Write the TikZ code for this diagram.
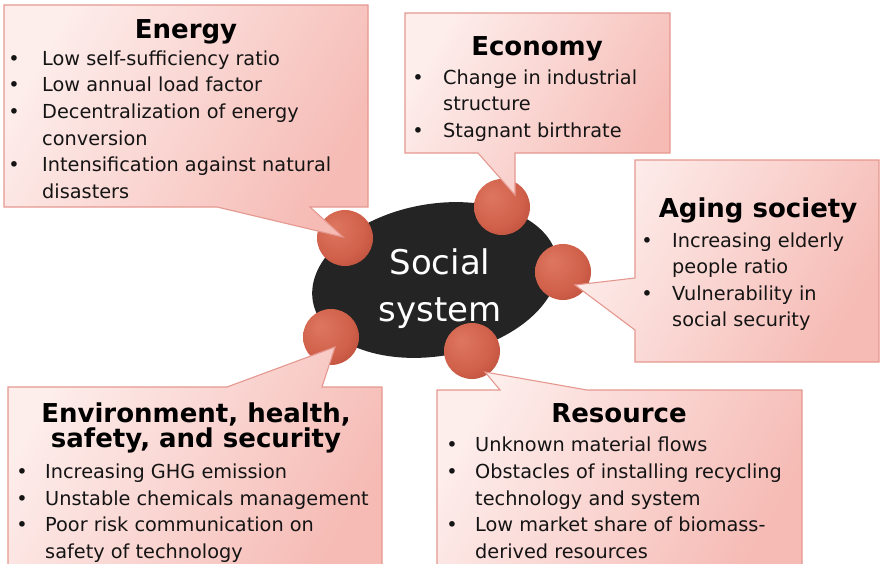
\documentclass[tikz,border=0pt]{standalone}
\usepackage{fontspec}
\setmainfont{DejaVu Sans}
\usetikzlibrary{shapes.geometric}

\definecolor{calloutlight}{HTML}{FDEDEB}
\definecolor{calloutdark}{HTML}{F6BBB5}
\definecolor{calloutline}{HTML}{E59890}
\definecolor{ballhi}{HTML}{DE7760}
\definecolor{ballmid}{HTML}{D0604A}
\definecolor{balldark}{HTML}{AE4230}
\definecolor{hubfill}{HTML}{242424}
\definecolor{inktext}{HTML}{141414}

% reddish knob with its highlight towards the upper left
\pgfdeclareradialshading{knob}{\pgfpoint{-10bp}{10bp}}{%
  color(0bp)=(ballhi); color(24bp)=(ballmid); color(44bp)=(balldark); color(60bp)=(balldark)}

\tikzset{
  callout/.style={draw=calloutline, line width=1.1pt, line join=miter,
    left color=calloutlight, right color=calloutdark, shading angle=60},
  knobstyle/.style={circle, minimum size=56pt, inner sep=0pt, shading=knob},
  hub/.style={ellipse, fill=hubfill, minimum width=248pt, minimum height=152pt, inner sep=0pt},
  hubtext/.style={text=white, font=\fontsize{34}{47}\selectfont, align=center},
  heading/.style={anchor=base, inner sep=0pt, text=black, font=\fontsize{26}{25}\selectfont\bfseries, align=center},
  bodyline/.style={anchor=base west, inner sep=0pt, text=inktext, font=\fontsize{19.3}{26.6}\selectfont},
  bulletmark/.style={anchor=base, inner sep=0pt, text=inktext, font=\fontsize{19.3}{26.6}\selectfont},
}

% one bulleted line: name, bullet x, text x, baseline y, text
\newcommand\bulletrow[5]{%
  \node[bulletmark] (#1b) at (#2,#4) {•};
  \node[bodyline] (#1) at (#3,#4) {#5};}
% continuation line without bullet: name, text x, baseline y, text
\newcommand\plainrow[4]{%
  \node[bodyline] (#1) at (#2,#3) {#4};}

\begin{document}
\begin{tikzpicture}[x=1pt,y=-1pt]
\useasboundingbox (0,0) rectangle (881,563);
\clip (0,0) rectangle (881,563);

% central hub
\node[hub, rotate=10] (hub) at (435,280) {};
\node[hubtext] (hublabel) at (440,289) {Social\\system};

% knobs on the hub rim
\node[knobstyle] (kenergy) at (345,238) {};
\node[knobstyle] (keconomy) at (502,207) {};
\node[knobstyle] (kaging) at (563,272) {};
\node[knobstyle] (kenv) at (331,337) {};
\node[knobstyle] (kresource) at (472,351) {};

% callouts, each pointing into its knob
\coordinate (tenergy) at (343,237);
\coordinate (teconomy) at (515,195);
\coordinate (taging) at (575,285);
\coordinate (tenv) at (335,347);
\coordinate (tresource) at (485,372);

\path[callout] (4,5) -- (368,5) -- (368,207) -- (310,207) -- (tenergy)
  -- (217,207) -- (4,207) -- cycle;
\path[callout] (405,13) -- (670,13) -- (670,153) -- (515,153) -- (teconomy)
  -- (478,153) -- (405,153) -- cycle;
\path[callout] (635,160) -- (879,160) -- (879,362) -- (635,362) -- (635,330)
  -- (taging) -- (635,278) -- cycle;
\path[callout] (8,387) -- (227,387) -- (tenv) -- (322,387) -- (382,387)
  -- (382,580) -- (8,580) -- cycle;
\path[callout] (437,390) -- (500,390) -- (tresource) -- (587,390) -- (802,390)
  -- (802,580) -- (437,580) -- cycle;

% Energy
\node[heading] (henergy) at (186,38) {Energy};
\bulletrow{e1}{14}{42}{65}{Low self-sufficiency ratio}
\bulletrow{e2}{14}{42}{91.7}{Low annual load factor}
\bulletrow{e3}{14}{42}{118.3}{Decentralization of energy}
\plainrow{e3c}{42}{145}{conversion}
\bulletrow{e4}{14}{42}{171.7}{Intensification against natural}
\plainrow{e4c}{42}{198.3}{disasters}

% Economy
\node[heading] (heconomy) at (537,55) {Economy};
\bulletrow{c1}{418}{443}{84}{Change in industrial}
\plainrow{c1c}{443}{110.6}{structure}
\bulletrow{c2}{418}{443}{137.2}{Stagnant birthrate}

% Aging society
\node[heading] (haging) at (758,217) {Aging society};
\bulletrow{a1}{647}{672}{247}{Increasing elderly}
\plainrow{a1c}{672}{273.6}{people ratio}
\bulletrow{a2}{647}{672}{300.2}{Vulnerability in}
\plainrow{a2c}{672}{326.8}{social security}

% Environment, health, safety, and security
\node[heading] (henv1) at (196,422) {Environment, health,};
\node[heading] (henv2) at (196,447) {safety, and security};
\bulletrow{v1}{22}{45}{478.3}{Increasing GHG emission}
\bulletrow{v2}{22}{45}{505}{Unstable chemicals management}
\bulletrow{v3}{22}{45}{531.7}{Poor risk communication on}
\plainrow{v3c}{45}{558.3}{safety of technology}

% Resource
\node[heading] (hresource) at (619,422) {Resource};
\bulletrow{r1}{452}{475}{451.7}{Unknown material flows}
\bulletrow{r2}{452}{475}{478.3}{Obstacles of installing recycling}
\plainrow{r2c}{475}{505}{technology and system}
\bulletrow{r3}{452}{475}{531.7}{Low market share of biomass-}
\plainrow{r3c}{475}{558.3}{derived resources}
\end{tikzpicture}
\end{document}
